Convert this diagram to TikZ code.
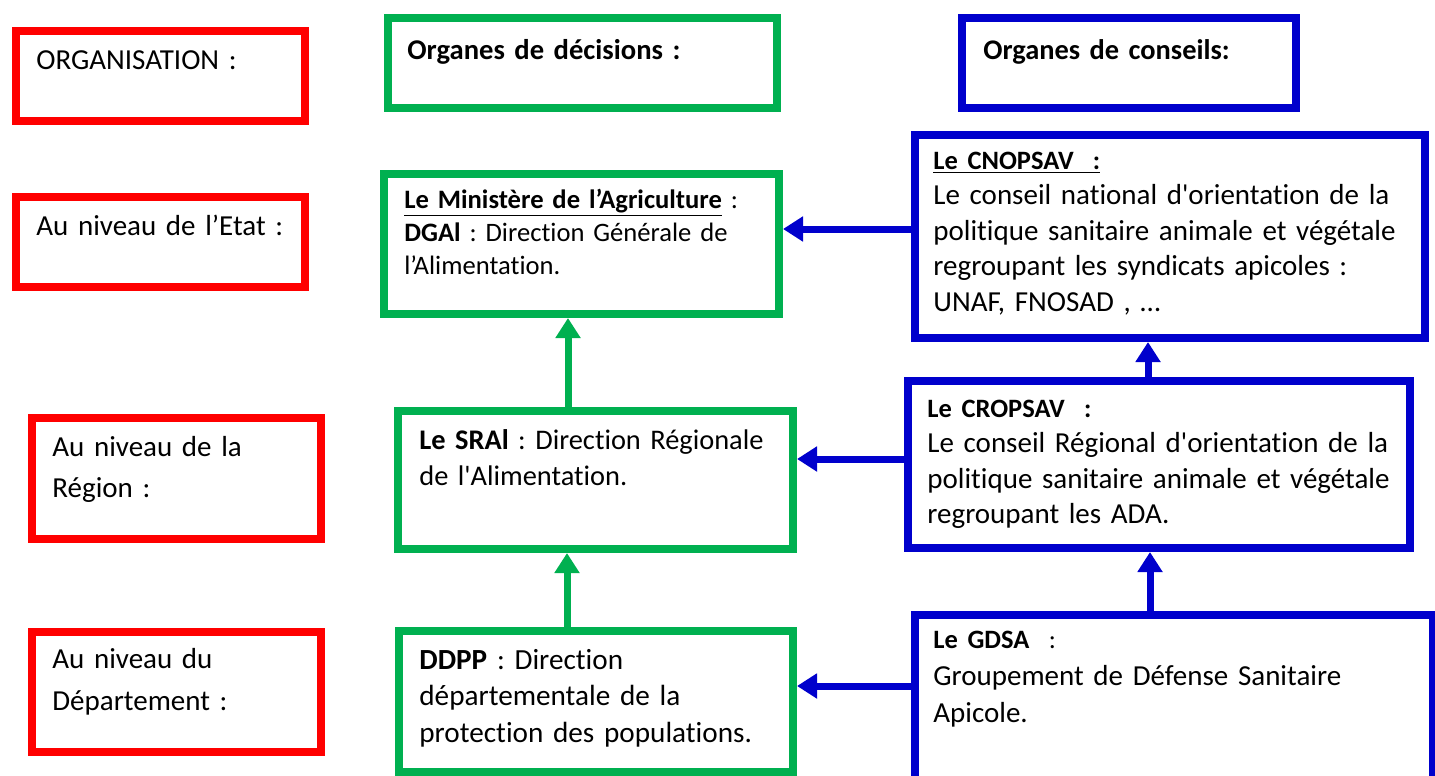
\documentclass[tikz,border=0pt]{standalone}
\usepackage{fontspec}
\setmainfont{Carlito}[Ligatures={TeXOff,CommonOff}]
\usetikzlibrary{positioning,arrows.meta}
\definecolor{level}{HTML}{FF0000}
\definecolor{decision}{HTML}{00B050}
\definecolor{conseil}{HTML}{0000CC}
\tikzset{
    frame/.style={rectangle, draw, line width=4pt, anchor=north west, inner sep=0pt},
    label/.style={anchor=base west, inner sep=0pt, align=left, text width=250pt},
    link/.style={line width=3.5pt, -{Triangle[width=12pt, length=10pt]}}
}

\begin{document}
\frenchspacing
\begin{tikzpicture}[x=0.5pt, y=-0.5pt]
\useasboundingbox (0,0) rectangle (1435,776);

% -- Niveaux --
\node[frame, level, minimum width=144.5pt, minimum height=45pt] (org) at (12,27) {};
\node[label, font=\fontsize{14.5}{17.75}\selectfont] (orgtxt) at (36,69) {ORGANISATION :};
\node[frame, level, minimum width=144.5pt, minimum height=45pt] (etat) at (12,193) {};
\node[label, font=\fontsize{14.5}{17.75}\selectfont] (etattxt) at (36,235) {Au niveau de l’Etat :};
\node[frame, level, minimum width=144.5pt, minimum height=60.5pt] (region) at (28,414) {};
\node[label, font=\fontsize{14.5}{20.5}\selectfont] (regiontxt) at (52,456) {Au niveau de la\\Région :};
\node[frame, level, minimum width=144.5pt, minimum height=60pt] (dept) at (28,628) {};
\node[label, font=\fontsize{14.5}{21}\selectfont] (depttxt) at (52,668) {Au niveau du\\Département :};

% -- Organes de decisions --
\node[frame, decision, minimum width=194.5pt, minimum height=45pt] (dec) at (384,14) {};
\node[label, font=\fontsize{14.3}{17.75}\selectfont\bfseries] (dectxt) at (407,59) {Organes de décisions :};
\node[frame, decision, minimum width=197.5pt, minimum height=70pt] (minis) at (380,170) {};
\node[label, font=\fontsize{13.3}{16.5}\selectfont] (ministxt) at (404,208)
    {\underline{\textbf{Le Ministère de l’Agriculture}} :\\\textbf{DGAl} : Direction Générale de\\l’Alimentation.};
\node[frame, decision, minimum width=197.5pt, minimum height=69pt] (srai) at (394,407) {};
\node[label, font=\fontsize{14.2}{18}\selectfont] (sraitxt) at (419,449)
    {\textbf{Le SRAl} : Direction Régionale\\de l'Alimentation.};
\node[frame, decision, minimum width=197pt, minimum height=70.5pt] (ddpp) at (395,627) {};
\node[label, font=\fontsize{14.6}{18.25}\selectfont] (ddpptxt) at (419,669)
    {\textbf{DDPP} : Direction\\départementale de la\\protection des populations.};

% -- Organes de conseils --
\node[frame, conseil, minimum width=167pt, minimum height=45pt] (cons) at (958,14) {};
\node[label, font=\fontsize{14.2}{17.75}\selectfont\bfseries] (constxt) at (983,59) {Organes de conseils:};
\node[frame, conseil, minimum width=255pt, minimum height=101.5pt] (cnop) at (911,131) {};
\node[label, font=\fontsize{14.5}{17.75}\selectfont] (cnoptxt) at (933,169)
    {{\fontsize{13.25}{17.75}\selectfont\underline{\textbf{Le CNOPSAV\ \ :}}}\\
     Le conseil national d'orientation de la\\politique sanitaire animale et végétale\\
     regroupant les syndicats apicoles :\\UNAF, FNOSAD , …};
\node[frame, conseil, minimum width=251pt, minimum height=83.5pt] (crop) at (904,377) {};
\node[label, font=\fontsize{14.5}{17.75}\selectfont] (croptxt) at (927,417)
    {{\fontsize{13.25}{17.75}\selectfont\textbf{Le CROPSAV\ \ :}}\\
     Le conseil Régional d'orientation de la\\politique sanitaire animale et végétale\\
     regroupant les ADA.};
\node[frame, conseil, minimum width=259pt, minimum height=84pt] (gdsa) at (911,611) {};
\node[label, font=\fontsize{14.5}{18.5}\selectfont] (gdsatxt) at (933,648)
    {{\fontsize{13.25}{18.5}\selectfont\textbf{Le GDSA}\ \ :}\\
     Groupement de Défense Sanitaire\\Apicole.};

% -- Liaisons --
\draw[link, decision] (568,0 |- srai.north) -- (568,0 |- minis.south);
\draw[link, decision] (567,0 |- ddpp.north) -- (567,0 |- srai.south);
\draw[link, conseil] (cnop.west |- 0,229) -- (minis.east |- 0,229);
\draw[link, conseil] (crop.west |- 0,459) -- (srai.east |- 0,459);
\draw[link, conseil] (gdsa.west |- 0,686) -- (ddpp.east |- 0,686);
\draw[link, conseil] (1148,0 |- crop.north) -- (1148,0 |- cnop.south);
\draw[link, conseil] (1150,0 |- gdsa.north) -- (1150,0 |- crop.south);

\end{tikzpicture}
\end{document}
